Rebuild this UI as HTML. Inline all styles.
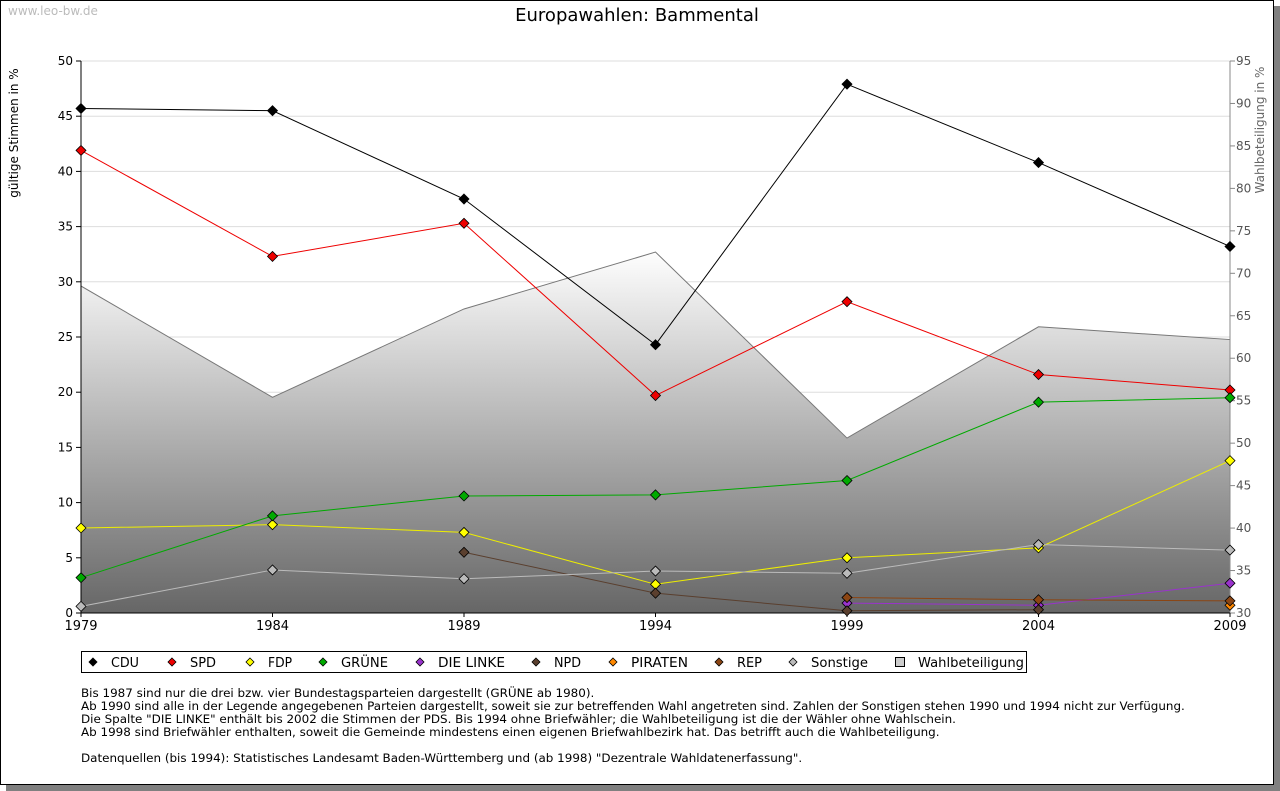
<!DOCTYPE html>
<html><head><meta charset="utf-8"><style>
body{margin:0;background:#fff;font-family:"DejaVu Sans","Liberation Sans",sans-serif;}
svg text{font-family:"DejaVu Sans","Liberation Sans",sans-serif;}
.note{position:absolute;left:81px;font-size:11.93px;color:#000;white-space:nowrap;}
</style></head><body>
<div style="position:relative;width:1280px;height:791px;">
<svg id="chart" width="1280" height="791" style="position:absolute;left:0;top:0">
<defs>
<linearGradient id="tg" gradientUnits="userSpaceOnUse" x1="0" y1="250" x2="0" y2="613">
<stop offset="0" stop-color="#ffffff"/><stop offset="1" stop-color="#666666"/></linearGradient>
</defs>
<rect x="6" y="6" width="1274" height="785" fill="#808080"/>
<rect x="0.5" y="0.5" width="1273" height="784" fill="#fff" stroke="#000"/>
<text x="8" y="15" font-size="12" fill="#bbb">www.leo-bw.de</text>
<text x="637" y="21" font-size="18" text-anchor="middle">Europawahlen: Bammental</text>
<text transform="translate(18,133) rotate(-90)" font-size="12" text-anchor="middle">gültige Stimmen in %</text>
<text transform="translate(1264,130) rotate(-90)" font-size="12" fill="#666" text-anchor="middle">Wahlbeteiligung in %</text>
<g id="grid"></g><g id="area"></g><g id="axes"></g><g id="series"></g>
<g id="legend"></g>
</svg>
<div class="note" style="top:686px">Bis 1987 sind nur die drei bzw. vier Bundestagsparteien dargestellt (GRÜNE ab 1980).</div>
<div class="note" style="top:699px">Ab 1990 sind alle in der Legende angegebenen Parteien dargestellt, soweit sie zur betreffenden Wahl angetreten sind. Zahlen der Sonstigen stehen 1990 und 1994 nicht zur Verfügung.</div>
<div class="note" style="top:712px">Die Spalte "DIE LINKE" enthält bis 2002 die Stimmen der PDS. Bis 1994 ohne Briefwähler; die Wahlbeteiligung ist die der Wähler ohne Wahlschein.</div>
<div class="note" style="top:725px">Ab 1998 sind Briefwähler enthalten, soweit die Gemeinde mindestens einen eigenen Briefwahlbezirk hat. Das betrifft auch die Wahlbeteiligung.</div>
<div class="note" style="top:751px">Datenquellen (bis 1994): Statistisches Landesamt Baden-Württemberg und (ab 1998) "Dezentrale Wahldatenerfassung".</div>
</div>
<script>
const years=[1979,1984,1989,1994,1999,2004,2009];
const cdu=[45.7,45.5,37.5,24.3,47.9,40.8,33.2];
const spd=[41.9,32.3,35.3,19.7,28.2,21.6,20.2];
const fdp=[7.7,8.0,7.3,2.6,5.0,5.9,13.8];
const gruene=[3.2,8.8,10.6,10.7,12.0,19.1,19.5];
const linke=[null,null,null,null,0.9,0.7,2.7];
const npd=[null,null,5.5,1.8,0.2,0.3,null];
const piraten=[null,null,null,null,null,null,0.7];
const rep=[null,null,null,null,1.4,1.2,1.1];
const sonstige=[0.6,3.9,3.1,3.8,3.6,6.2,5.7];
const turnout=[68.5,55.4,65.8,72.5,50.6,63.7,62.2];
const leftTicks=[0,5,10,15,20,25,30,35,40,45,50];
const rightTicks=[30,35,40,45,50,55,60,65,70,75,80,85,90,95];
const NS='http://www.w3.org/2000/svg';
const X0=81,X1=1230,Y0=613,Y1=61;
const xs=y=>X0+(y-1979)/30*(X1-X0);
const yl=v=>Y0-v/50*(Y0-Y1);
const yr=v=>Y0-(v-30)/65*(Y0-Y1);
function mk(t,a,p){const e=document.createElementNS(NS,t);for(const k in a)e.setAttribute(k,a[k]);p.appendChild(e);return e;}
const grid=document.getElementById('grid'),axes=document.getElementById('axes'),area=document.getElementById('area'),ser=document.getElementById('series'),leg=document.getElementById('legend');
leftTicks.forEach(v=>{
 if(v>0){const l=mk('line',{x1:X0,x2:X1,y1:yl(v),y2:yl(v),stroke:'#ddd'},grid);}
 mk('line',{x1:X0-5,x2:X0,y1:yl(v),y2:yl(v),stroke:'#000'},axes);
 const t=mk('text',{x:X0-8,y:yl(v)+4,'font-size':12,'text-anchor':'end'},axes);t.textContent=v;
 
});
rightTicks.forEach(v=>{
 mk('line',{x1:X1,x2:X1+5,y1:yr(v),y2:yr(v),stroke:'#888'},axes);
 const t=mk('text',{x:X1+6,y:yr(v)+4,'font-size':12,fill:'#555'},axes);t.textContent=v;
 
});
let d='M'+xs(years[0])+','+Y0;years.forEach((y,i)=>d+='L'+xs(y)+','+yr(turnout[i]));d+='L'+xs(years[6])+','+Y0+'Z';
const ar=mk('path',{d:d,fill:'url(#tg)',stroke:'#777'},area);

mk('line',{x1:X0,x2:X0,y1:Y1,y2:Y0,stroke:'#000'},axes);
mk('line',{x1:X1,x2:X1,y1:Y1,y2:Y0,stroke:'#888'},axes);
mk('line',{x1:X0,x2:X1,y1:Y0,y2:Y0,stroke:'#000'},axes);
years.forEach(y=>{mk('line',{x1:xs(y),x2:xs(y),y1:Y0,y2:Y0+4,stroke:'#000'},axes);
 const t=mk('text',{x:xs(y),y:Y0+17,'font-size':13,'text-anchor':'middle'},axes);t.textContent=y;
 });
const series=[['CDU',cdu,'#000','#000'],['SPD',spd,'#e00','#e00'],['FDP',fdp,'#ee0','#ff0'],['GRÜNE',gruene,'#0a0','#0a0'],['DIE LINKE',linke,'#93c','#93c'],['NPD',npd,'#5a3f2e','#5a3f2e'],['PIRATEN',piraten,'#f80','#f80'],['REP',rep,'#8b4513','#8b4513'],['Sonstige',sonstige,'#bbb','#bbb']];
function dia(cx,cy,fill,p,r){r=r||5;return mk('path',{d:`M${cx},${cy-r}L${cx+r},${cy}L${cx},${cy+r}L${cx-r},${cy}Z`,fill:fill,stroke:'#000','stroke-width':0.8},p);}
series.forEach(([name,vals,lc,fc])=>{
 const g=mk('g',{},ser);
 let pts=[];years.forEach((y,i)=>{if(vals[i]!=null)pts.push(xs(y)+','+yl(vals[i]));});
 if(pts.length>1)mk('polyline',{points:pts.join(' '),fill:'none',stroke:lc,'stroke-width':1},g);
 years.forEach((y,i)=>{if(vals[i]!=null){const m=dia(xs(y),yl(vals[i]),fc,g);}});
});
mk('rect',{x:81.5,y:651.5,width:945,height:21,fill:'#fff',stroke:'#000'},leg);
const lx=[111,190,268,341,438,554,631,737,811];
const lw=[28,26,24,47,67,27,57,25,57];
series.forEach(([name,,,fc],i)=>{dia(lx[i]-18,662,fc,leg,4);
 const t=mk('text',{x:lx[i],y:667,'font-size':13,textLength:lw[i],lengthAdjust:'spacingAndGlyphs'},leg);t.textContent=name;
 });
mk('rect',{x:895.5,y:657.5,width:9,height:9,fill:'#ccc',stroke:'#000'},leg);
const tw=mk('text',{x:918,y:667,'font-size':13,textLength:106,lengthAdjust:'spacingAndGlyphs'},leg);tw.textContent='Wahlbeteiligung';

</script>
</body></html>
